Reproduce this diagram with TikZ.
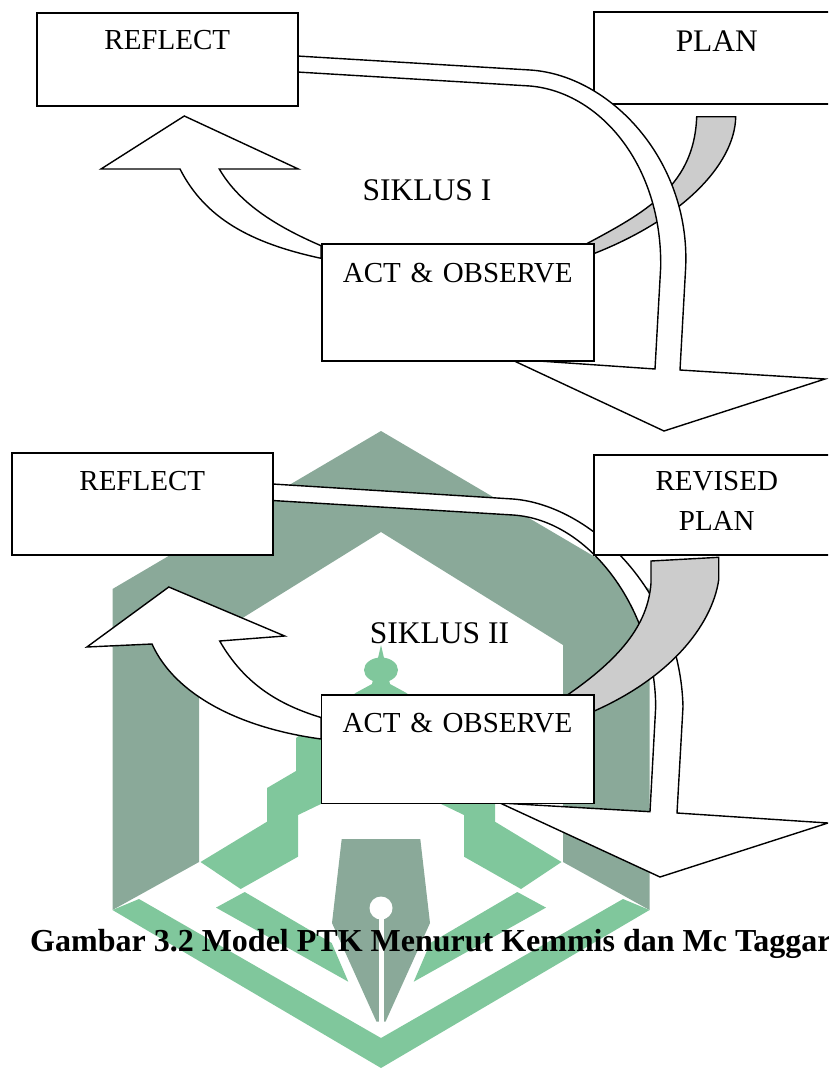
\documentclass[tikz,border=0pt]{standalone}
\usepackage{fontspec}
\setmainfont{Liberation Serif}
\definecolor{markdark}{HTML}{8AA999}
\definecolor{markgreen}{HTML}{80C79C}
\definecolor{flowgray}{HTML}{CCCCCC}
\tikzset{
	flowbox/.style={draw, fill=white, line width=1.5pt, inner sep=0pt, anchor=north west, align=center, font=\fontsize{29}{39.3}\selectfont},
	flowarrow/.style={draw, line width=1.4pt, line join=miter, fill=white},
	bigtext/.style={inner sep=0pt, anchor=base, font=\fontsize{31.5}{38}\selectfont}
}
\begin{document}
\begin{tikzpicture}[x=1pt,y=-1pt]

		\useasboundingbox (0,0) rectangle (828,1068);
		\clip (0,0) rectangle (828,1068);

		\fill [markdark] (381,431)--(649.5,589)--(649.5,910)--(563,862)--(563,645)--(381,532)--(199,645)--(199,862)--(112.5,910)--(112.5,589)--cycle;
		\fill [markgreen] (112.5,910)--(139,899)--(381,1038)--(623,899)--(649.5,910)--(381,1068)--cycle;
		\fill [markgreen] (296,738)--(356,692.7)--(372,684)--(381,645)--(390,684)--(406,692.7)--(466,738)--(466,771)--(495,788)--(495,821.7)--(561.5,862)--(521,889)--(464,856.7)--(464,815)--(437,802)--(325,802)--(298,815)--(298,856.7)--(240.7,889)--(200.5,862)--(267,821.7)--(267,788)--(296,771)--cycle;
		\fill [markgreen] (381,670) ellipse (17 and 12.5);
		\fill [markgreen] (216,907.6)--(244.7,892)--(331.7,943)--(348.3,981.7)--cycle;
		\fill [markgreen] (546,907.6)--(517.3,892)--(430.3,943)--(413.7,981.7)--cycle;
		\fill [markdark] (341.7,839)--(420.3,839)--(430,923)--(385.5,1021.7)--(376.5,1021.7)--(332,923)--cycle;
		\fill [white] (378.5,908)--(383.5,908)--(383.5,1024)--(378.5,1024)--cycle;
		\fill [white] (381,908) circle (11.5);

		\node [flowbox, text width=246pt, text height=39.7pt, text depth=52.3pt, font=\fontsize{31.4}{38}\selectfont] (planA) at (593,11) {PLAN};

		\coordinate (feedA) at (297,56);
		\coordinate (feedB) at (272.5,484);

		\draw [flowarrow, fill=flowgray] (696.7,116.7)--(735.7,116.7) .. controls (735,165) and (680,222) .. (585,257)--(575,250) .. controls (640,215) and (694,190) .. (696.7,116.7)--cycle;
		\draw [flowarrow] (feedA)--(530,70) .. controls (610,75) and (690,160) .. (685.7,266.7)--(680,370)--(825,379)--(664,431)--(510,359)--(655,369)--(660.7,266.7) .. controls (662,165) and (600,92) .. (530,86)--(297,72)--cycle;
		\draw [flowarrow] (321,258.3) .. controls (250,243) and (205,218) .. (180,169)--(101,169)--(184.3,116)--(298.3,169)--(219.3,169) .. controls (240,205) and (280,228) .. (321,245.7)--cycle;

		\node [flowbox, text width=261pt, text height=37pt, text depth=56pt] (reflectA) at (36,12) {REFLECT};
		\node [flowbox, text width=272pt, text height=38.7pt, text depth=78.3pt] (actA) at (321,243) {ACT \& OBSERVE};
		\node [bigtext] (siklusA) at (427,200) {SIKLUS I};

		\draw [flowarrow] (feedB)--(513,499) .. controls (590,505) and (680,590) .. (683,706.7)--(677,813)--(828,823)--(660,877)--(500,803)--(650,811.7)--(655.7,706.7) .. controls (655,610) and (590,520) .. (513,515)--(272.5,500.5)--cycle;
		\draw [flowarrow, fill=flowgray] (651,561)--(718.7,557.3)--(718.7,580) .. controls (712,625) and (670,680) .. (585,715)--(560,700) .. controls (620,660) and (648,625) .. (651,583)--cycle;
		\draw [flowarrow] (321,739) .. controls (240,728) and (175,695) .. (152,644)--(86.9,647)--(168.8,587)--(284.7,636)--(219.7,641) .. controls (245,685) and (280,705) .. (321,717.5)--cycle;

		\node [flowbox, text width=261pt, text height=37.4pt, text depth=64.9pt] (reflectB) at (11,452) {REFLECT};
		\node [flowbox, text width=246pt, text height=36pt, text depth=64pt] (planB) at (593,454) {REVISED\\PLAN};
		\node [flowbox, text width=272.5pt, text height=37.4pt, text depth=71pt] (actB) at (320.5,694.3) {ACT \& OBSERVE};
		\node [bigtext] (siklusB) at (439.5,643) {SIKLUS II};

		\node [inner sep=0pt, anchor=base west, font=\fontsize{32}{38}\selectfont\bfseries] (caption) at (30,951.5) {Gambar 3.2 Model PTK Menurut Kemmis dan Mc Taggar};

\end{tikzpicture}
\end{document}
